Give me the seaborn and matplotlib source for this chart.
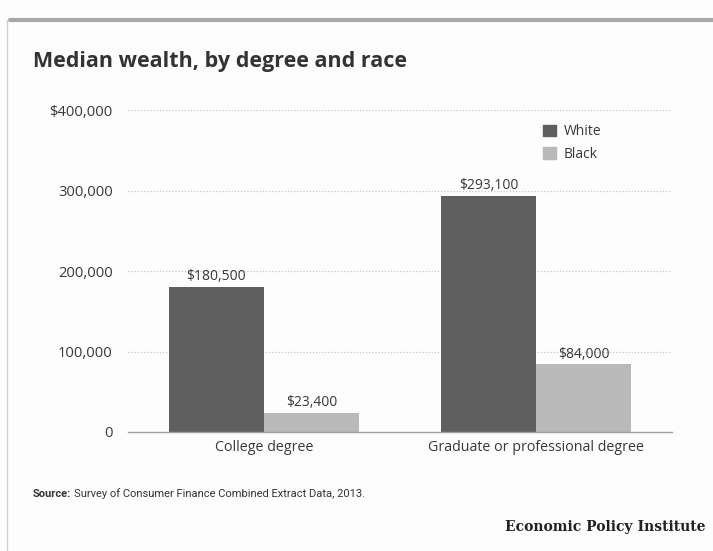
import matplotlib
matplotlib.use("Agg")
import matplotlib.pyplot as plt
import seaborn as sns
import pandas as pd
from matplotlib.patches import Rectangle
from matplotlib.lines import Line2D

categories = ["College degree", "Graduate or professional degree"]
races = ["White", "Black"]
white_vals = [180500, 293100]
black_vals = [23400, 84000]
value_labels_white = ["$180,500", "$293,100"]
value_labels_black = ["$23,400", "$84,000"]
ytick_vals = [0, 100000, 200000, 300000, 400000]
ytick_labels = ["0", "100,000", "200,000", "300,000", "$400,000"]

df = pd.DataFrame({
    "category": categories * 2,
    "race": ["White"] * 2 + ["Black"] * 2,
    "value": white_vals + black_vals,
})

sns.set_theme(style="white")
plt.rcParams["font.family"] = ["Open Sans", "DejaVu Sans"]

dark = "#5f5f5f"
light = "#b9b9b9"
textc = "#383838"

fig = plt.figure(figsize=(7.13, 5.51), dpi=100)
fig.patch.set_facecolor("#fdfdfd")
ax = fig.add_axes([0.1795, 0.216, 0.763, 0.584])
ax.set_facecolor("#fdfdfd")

sns.barplot(data=df, x="category", y="value", hue="race", hue_order=races,
            palette=[dark, light], width=0.7, ax=ax, legend=False,
            saturation=1, edgecolor="none")

ax.set_ylim(0, 400000)
ax.set_xlim(-0.5, 1.5)
ax.set_yticks(ytick_vals)
ax.set_yticklabels(ytick_labels, color=textc, fontsize=10.6)
ax.set_xticks([0, 1])
ax.set_xticklabels(categories, color=textc, fontsize=10.3)
ax.tick_params(axis="y", length=0, pad=11)
ax.tick_params(axis="x", length=0, pad=6)
ax.set_xlabel("")
ax.set_ylabel("")
for s in ["top", "right", "left"]:
    ax.spines[s].set_visible(False)
ax.spines["bottom"].set_color("#a0a0a0")
ax.spines["bottom"].set_linewidth(1)

for y in ytick_vals[1:]:
    ax.axhline(y, color="#c8c8c8", linestyle=(0, (1, 1.5)), linewidth=0.9, zorder=0)

conts = ax.containers
ax.bar_label(conts[0], labels=value_labels_white, padding=2, color=textc, fontsize=10)
ax.bar_label(conts[1], labels=value_labels_black, padding=2, color=textc, fontsize=10)

handles = [Rectangle((0, 0), 1, 1, color=dark), Rectangle((0, 0), 1, 1, color=light)]
ax.legend(handles, races, loc="upper left", bbox_to_anchor=(0.74, 0.995),
          frameon=False, fontsize=10, handlelength=0.9, handleheight=0.9,
          handletextpad=0.6, labelspacing=0.55, labelcolor=textc)

fig.text(33 / 713, 1 - 62 / 551, "Median wealth, by degree and race", fontsize=15.5,
         fontweight="bold", color="#333333", va="center", ha="left")

narrow = ["Roboto", "DejaVu Sans"]
src_y = 1 - 497 / 551
src_bold = fig.text(33 / 713, src_y, "Source:", fontsize=8, fontweight="bold",
                    color="#333333", va="baseline", ha="left", family=narrow)
fig.canvas.draw()
bb = src_bold.get_window_extent(renderer=fig.canvas.get_renderer())
fig.text((bb.x1 + 3) / 713, src_y,
         "Survey of Consumer Finance Combined Extract Data, 2013.",
         fontsize=8, color="#333333", va="baseline", ha="left", family=narrow)
fig.text(0.99, 1 - 527 / 551, "Economic Policy Institute", fontsize=10,
         fontweight="bold", color="#222222", va="center", ha="right",
         family=["DejaVu Serif"])

fig.add_artist(Line2D([10 / 713, 1], [1 - 20 / 551, 1 - 20 / 551], color="#a8a8a8",
                      linewidth=3, transform=fig.transFigure))
fig.add_artist(Line2D([7 / 713, 7 / 713], [0, 1 - 20 / 551], color="#d0d0d0",
                      linewidth=1, transform=fig.transFigure))

fig.savefig("out.png", dpi=100, facecolor=fig.get_facecolor())
